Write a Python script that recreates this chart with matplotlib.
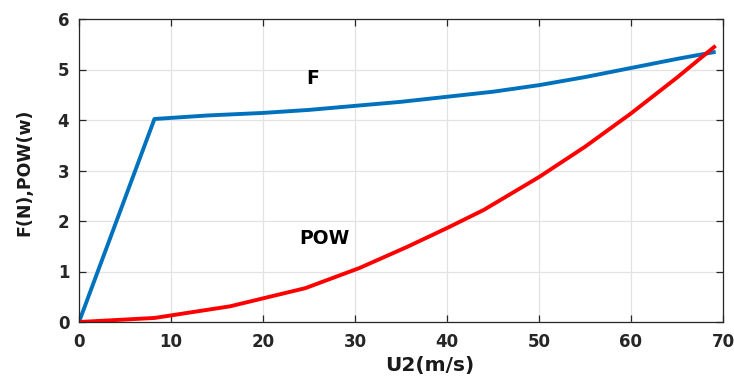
import matplotlib
matplotlib.use("Agg")
import matplotlib.pyplot as plt

plt.rcParams['font.family'] = ['DejaVu Sans']

# Force curve F(N) vs speed U2(m/s)
f_speed = [0, 8.2, 14, 20, 25, 30, 35, 40, 45, 50, 55, 60, 65, 69.2]
f_force = [0, 4.02, 4.09, 4.14, 4.20, 4.28, 4.36, 4.46, 4.56, 4.69, 4.85, 5.03, 5.21, 5.35]

# Power curve POW(w) vs speed U2(m/s)
p_speed = [0, 8.2, 16.4, 24.6, 30.5, 35.7, 40, 44, 50, 55, 60, 65, 69.2]
p_power = [0, 0.08, 0.31, 0.67, 1.07, 1.49, 1.86, 2.22, 2.87, 3.47, 4.13, 4.84, 5.47]

x_ticks = [0, 10, 20, 30, 40, 50, 60, 70]
y_ticks = [0, 1, 2, 3, 4, 5, 6]

W, H = 734, 376
fig = plt.figure(figsize=(W / 100, H / 100), dpi=100)
ax = fig.add_axes([79 / W, 1 - 322 / H, 644 / W, 303 / H])

ax.plot(f_speed, f_force, color='#0072BD', lw=2.8, solid_capstyle='butt')
ax.plot(p_speed, p_power, color='#FF0000', lw=2.8, solid_capstyle='butt')

ax.text(25.4, 4.82, 'F', fontsize=13.5, fontweight='bold', ha='center', va='center')
ax.text(26.7, 1.66, 'POW', fontsize=13.5, fontweight='bold', ha='center', va='center')

ax.set_xlim(0, 70)
ax.set_ylim(0, 6)
ax.set_xticks(x_ticks)
ax.set_yticks(y_ticks)
ax.grid(True, color='#e3e3e3', lw=0.9)
ax.set_axisbelow(True)
ax.tick_params(direction='in', top=True, right=True, length=5, width=0.9,
               labelsize=12, colors='#262626')
ax.tick_params(axis='x', pad=8)
ax.tick_params(axis='y', pad=7)
for lab in ax.get_xticklabels() + ax.get_yticklabels():
    lab.set_fontweight('bold')
for sp in ax.spines.values():
    sp.set_color('#262626')
    sp.set_linewidth(0.9)

fig.text(430 / W, 1 - 366 / H, 'U2(m/s)', fontsize=14.5, fontweight='bold',
         color='#1a1a1a', ha='center', va='center')
fig.text(24 / W, 1 - 172 / H, 'F(N),POW(w)', fontsize=12.5, fontweight='bold',
         color='#1a1a1a', ha='center', va='center', rotation=90)

fig.savefig('out.png', dpi=100)
